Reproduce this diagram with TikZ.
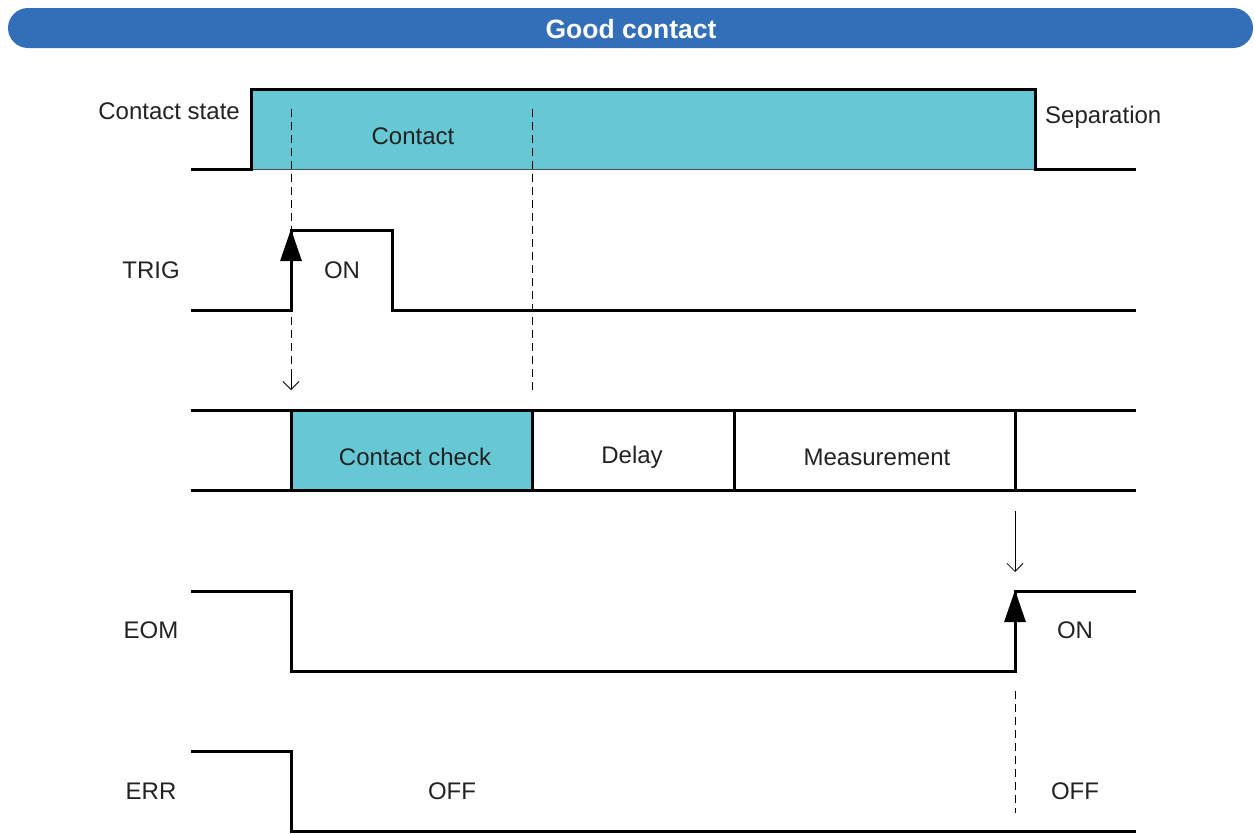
\documentclass[tikz,border=0pt]{standalone}
\usepackage{fontspec}
\setmainfont{Liberation Sans}
\usetikzlibrary{arrows.meta}
\definecolor{hdr}{HTML}{336FB8}
\definecolor{teal}{HTML}{66C8D4}
\definecolor{txt}{HTML}{222222}
\begin{document}
\begin{tikzpicture}[x=1pt,y=-1pt,
  wave/.style={line width=3pt,line join=miter,black},
  thin/.style={line width=1pt,black},
  dash line/.style={line width=1pt,dash pattern=on 8pt off 5pt},
  lbl/.style={font=\fontsize{24}{27}\selectfont,text=txt,inner sep=0pt},
  uparrow/.style={line width=3pt,-{Triangle[length=32pt,width=21pt]}},
  downarrow/.style={line width=0.8pt,-{Straight Barb[length=8pt,width=16pt,line width=0.8pt]}}]
\useasboundingbox (0,0) rectangle (1255,833);
% header
\fill[hdr,rounded corners=20pt] (8,8) rectangle (1253,48);
\node[font=\fontsize{26.5}{29}\selectfont\bfseries,text=white] (title) at (631,29) {Good contact};
% contact state
\fill[teal] (251,89) rectangle (1035,169);
\draw[thin,black!70] (251,169) -- (1035,169);
\draw[wave] (191,169) -- (251,169) -- (251,89) -- (1035,89) -- (1035,169) -- (1136,169);
\node[lbl,anchor=east] (cs) at (240,111) {Contact state};
\node[lbl] (contact) at (413,136) {Contact};
\node[lbl,anchor=west] (sep) at (1045,117) {Separation};
% dashed guides
\coordinate (d1a) at (291,109); \coordinate (d1b) at (291,390);
\coordinate (d2a) at (532,109); \coordinate (d2b) at (532,390);
\draw[dash line] (d1a) -- (291,382);
\draw[downarrow] (291,370) -- (d1b);
\draw[dash line] (d2a) -- (d2b);
% TRIG
\draw[wave] (191,310) -- (291,310) -- (291,230) -- (392,230) -- (392,310) -- (1136,310);
\draw[uparrow] (291,300) -- (291,229);
\node[lbl] (trig) at (151,270) {TRIG};
\node[lbl] (trigon) at (342,270) {ON};
% bus
\fill[teal] (291,410) rectangle (532,490);
\draw[wave] (191,410) -- (1136,410);
\draw[wave] (191,490) -- (1136,490);
\foreach \x in {291,532,734,1015} \draw[wave] (\x,410) -- (\x,490);
\node[lbl] (cc) at (415,457) {Contact check};
\node[lbl] (delay) at (632,457) {Delay};
\node[lbl] (meas) at (877,457) {Measurement};
% arrow to EOM
\coordinate (a2a) at (1015,511); \coordinate (a2b) at (1015,572);
\draw[downarrow] (a2a) -- (a2b);
% EOM
\draw[wave] (191,591) -- (291,591) -- (291,671) -- (1015,671) -- (1015,591) -- (1136,591);
\draw[uparrow] (1015,661) -- (1015,590);
\node[lbl] (eom) at (151,630) {EOM};
\node[lbl] (eomon) at (1075,630) {ON};
% ERR
\draw[wave] (191,751) -- (291,751) -- (291,831) -- (1136,831);
\coordinate (d3a) at (1015,691); \coordinate (d3b) at (1015,813);
\draw[dash line] (d3a) -- (d3b);
\node[lbl] (err) at (151,791) {ERR};
\node[lbl] (off1) at (452,791) {OFF};
\node[lbl] (off2) at (1075,791) {OFF};
\end{tikzpicture}
\end{document}
